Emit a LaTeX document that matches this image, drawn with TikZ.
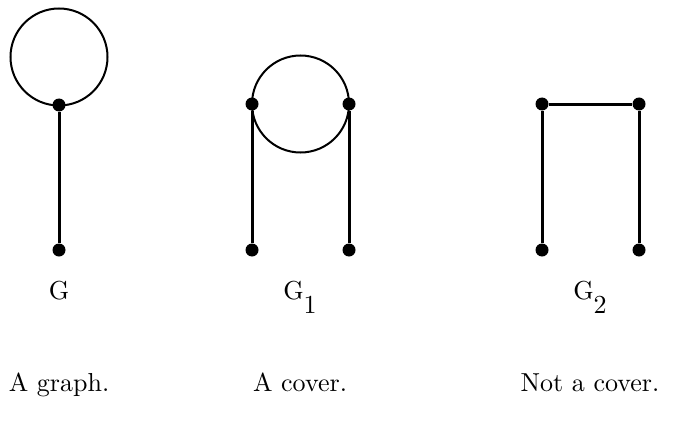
\documentclass[tikz,border=0pt]{standalone}
\newcommand{\bigtxt}[1]{\scalebox{2.6}{\fontsize{10}{12}\selectfont #1}}
\begin{document}
\begin{tikzpicture}[x=1pt,y=-1pt,
  vert/.style={circle,fill=black,inner sep=0pt,minimum size=13pt},
  edge/.style={line width=3pt},
  loopc/.style={line width=2pt},
  lbl/.style={inner sep=0pt,anchor=base}]
\useasboundingbox (0,0) rectangle (684,425);
% G
\node[vert] (g1) at (59,105) {};
\node[vert] (g2) at (59,250) {};
\draw[loopc] (59,57) circle (48.5);
\draw[edge] (g1) -- (g2);
% G1
\draw[loopc] (300.5,104) circle (48.5);
\node[vert] (a1) at (252,104) {};
\node[vert] (a2) at (349,104) {};
\node[vert] (a3) at (252,250) {};
\node[vert] (a4) at (349,250) {};
\draw[edge] (a1) -- (a3);
\draw[edge] (a2) -- (a4);
% G2
\node[vert] (b1) at (542,104) {};
\node[vert] (b2) at (639,104) {};
\node[vert] (b3) at (542,250) {};
\node[vert] (b4) at (639,250) {};
\draw[edge] (b1) -- (b3);
\draw[edge] (b2) -- (b4);
\draw[edge] (b1) -- (b2);
% labels
\node[lbl] (lg) at (59,299) {\bigtxt{G}};
\node[lbl] (lg1) at (300,299) {\bigtxt{G\raisebox{-0.55em}{1}}};
\node[lbl] (lg2) at (590,299) {\bigtxt{G\raisebox{-0.55em}{2}}};
\node[lbl] (t1) at (59,391) {\bigtxt{A graph.}};
\node[lbl] (t2) at (300,391) {\bigtxt{A cover.}};
\node[lbl] (t3) at (590,391) {\bigtxt{Not a cover.}};
\end{tikzpicture}
\end{document}
